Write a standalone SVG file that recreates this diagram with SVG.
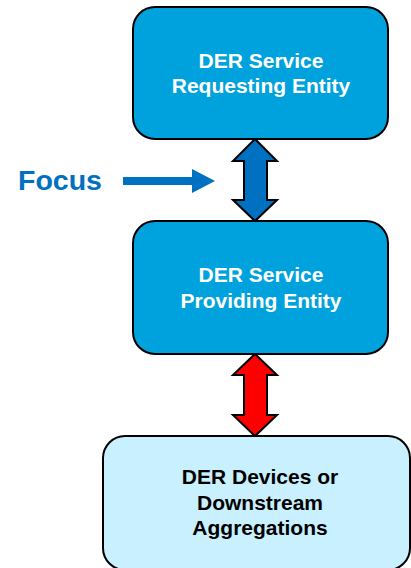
<svg xmlns="http://www.w3.org/2000/svg" width="411" height="568" viewBox="0 0 411 568">
<style>
.box{stroke:#000;stroke-width:2}
.dark{fill:#00A2DD}
.light{fill:#C8F0FE}
.t{font-family:"Liberation Sans",Arial,sans-serif;font-weight:bold;font-size:21px;text-anchor:middle}
.w{fill:#fff}
.k{fill:#000}
.arr{stroke:#000;stroke-width:2;stroke-linejoin:miter}
</style>
<rect width="411" height="568" fill="#fff"/>
<g id="connectors">
<path class="arr" fill="#0070C0" d="M255,139 L277,161 L267,161 L267,200 L277,200 L255,221 L233,200 L244,200 L244,161 L233,161 Z"/>
<path class="arr" fill="#FF0000" d="M255,354 L277,375 L267,375 L267,415 L277,415 L255,436 L233,415 L244,415 L244,375 L233,375 Z"/>
<path fill="#0070C0" d="M123,177 L192,177 L192,169 L215,181 L192,193 L192,185 L123,185 Z"/>
</g>
<g id="focus">
<text x="18" y="190" font-family="Liberation Sans,Arial,sans-serif" font-weight="bold" font-size="28.5" fill="#0070C0">Focus</text>
</g>
<g id="requesting">
<rect class="box dark" x="133" y="7" width="255" height="132" rx="22"/>
<text class="t w" x="261" y="68">DER Service</text>
<text class="t w" x="261" y="93">Requesting Entity</text>
</g>
<g id="providing">
<rect class="box dark" x="133" y="221" width="255" height="133" rx="22"/>
<text class="t w" x="261" y="282">DER Service</text>
<text class="t w" x="261" y="308">Providing Entity</text>
</g>
<g id="devices">
<rect class="box light" x="103" y="436" width="307" height="134" rx="22"/>
<text class="t k" x="260" y="484">DER Devices or</text>
<text class="t k" x="260" y="510">Downstream</text>
<text class="t k" x="260" y="535">Aggregations</text>
</g>
</svg>
